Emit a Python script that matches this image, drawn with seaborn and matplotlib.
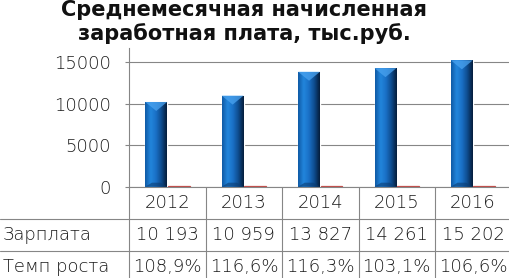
import numpy as np
import pandas as pd
import matplotlib
matplotlib.use("Agg")
import matplotlib.pyplot as plt
import seaborn as sns
from matplotlib.colors import LinearSegmentedColormap
from matplotlib.patches import Polygon

# ---- data ----
years = ["2012", "2013", "2014", "2015", "2016"]
salary = [10193, 10959, 13827, 14261, 15202]
growth = [108.9, 116.6, 116.3, 103.1, 106.6]
series_names = ["Зарплата", "Темп роста"]
title = "Среднемесячная начисленная\nзаработная плата, тыс.руб."
yticks = [0, 5000, 10000, 15000]

sns.set_theme(style="white")
plt.rcParams["font.family"] = ["DejaVu Sans"]

W, H = 509, 278
DPI = 100
fig = plt.figure(figsize=(W / DPI, H / DPI), dpi=DPI)

ax_l, col_w, ax_b, ax_t = 129.3, 76.4, 186.7, 48.0
ax_h = ax_b - ax_t
ax = fig.add_axes([ax_l / W, (H - ax_b) / H, 5 * col_w / W, ax_h / H])

df = pd.DataFrame({
    "year": years * 2,
    "value": salary + growth,
    "series": [series_names[0]] * len(years) + [series_names[1]] * len(years),
})
sns.barplot(data=df, x="year", y="value", hue="series", ax=ax,
            palette=["#1a6cc0", "#c0504d"], width=0.59, gap=0.03,
            saturation=1, legend=False)

grid_c = "#868686"
txt_c = "#1a1a1a"
LIGHT = 200
ymax = 15000 * ax_h / (ax_b - 62)
ax.set_ylim(0, ymax)
ax.set_xlim(-0.5, len(years) - 0.5)
ax.set_yticks(yticks)
ax.set_yticklabels([str(t) for t in yticks], fontsize=13, color=txt_c,
                   fontweight=LIGHT)
ax.yaxis.grid(True, color=grid_c, linewidth=0.8)
ax.set_axisbelow(True)
ax.set_xticks([])
ax.set_xlabel("")
ax.set_ylabel("")
ax.tick_params(axis="y", length=3, width=0.8, color=grid_c, pad=10, left=True)
for s in ["top", "right"]:
    ax.spines[s].set_visible(False)
for s in ["left", "bottom"]:
    ax.spines[s].set_color(grid_c)
    ax.spines[s].set_linewidth(0.8)

# red (growth) bars: give them a visible outline like the reference
for p in ax.patches[len(years):2 * len(years)]:
    p.set_edgecolor("#c0504d")
    p.set_linewidth(0.9)
    p.set_zorder(3)

# gradient for the salary bars
cmap = LinearSegmentedColormap.from_list(
    "cyl", ["#0f5aa5", "#2286dc", "#1a70c6", "#0e4c8e", "#051d3a"])
grad = np.linspace(0, 1, 64).reshape(1, -1)
blue_patches = ax.patches[:len(years)]
px_to_data = ymax / ax_h
for p in blue_patches:
    x0, w, h = p.get_x(), p.get_width(), p.get_height()
    im = ax.imshow(grad, cmap=cmap, extent=[x0, x0 + w, 0, h],
                   aspect="auto", zorder=p.get_zorder() + 0.1,
                   interpolation="bicubic")
    im.set_clip_path(p)
    d = 9 * px_to_data
    tri = Polygon([[x0, h], [x0 + w, h], [x0 + w / 2, h - d]],
                  closed=True, facecolor="#4aa3f0", edgecolor="none",
                  alpha=0.75, zorder=p.get_zorder() + 0.2)
    ax.add_patch(tri)
    bot = Polygon([[x0, 0], [x0 + w, 0], [x0 + w - w * 0.3, 4 * px_to_data],
                   [x0 + w * 0.3, 4 * px_to_data]],
                  closed=True, facecolor="#0b3d73", edgecolor="none",
                  alpha=0.6, zorder=p.get_zorder() + 0.2)
    ax.add_patch(bot)
ax.set_xlim(-0.5, len(years) - 0.5)
ax.set_ylim(0, ymax)

# ---- data table below the plot ----
rh = 32 / ax_h
xt = ax.get_xaxis_transform()
left_frac = -ax_l / (5 * col_w)
fs = 13
kw = dict(fontsize=fs, color=txt_c, fontweight=LIGHT, clip_on=False)
for i, yr in enumerate(years):
    ax.text(i, -0.5 * rh, yr, transform=xt, ha="center", va="center", **kw)
    ax.text(i, -1.5 * rh, f"{salary[i]:,}".replace(",", " "), transform=xt,
            ha="center", va="center", **kw)
    ax.text(i, -2.5 * rh, f"{growth[i]:.1f}%".replace(".", ","), transform=xt,
            ha="center", va="center", **kw)
for r, name in enumerate(series_names):
    ax.text(3 / (5 * col_w) + left_frac, -(r + 1.5) * rh, name,
            transform=ax.transAxes, ha="left", va="center", **kw)
for k in (1, 2):
    ax.plot([left_frac, 1], [-k * rh, -k * rh], transform=ax.transAxes,
            color=grid_c, lw=0.8, clip_on=False)
for i in range(len(years) + 1):
    ax.plot([i - 0.5, i - 0.5], [0, -3.2 * rh], transform=xt,
            color=grid_c, lw=0.8, clip_on=False)

fig.text(244 / W, 1 - 0.5 / H, title, ha="center", va="top", fontsize=15,
         fontweight="bold", color="#111111", linespacing=1.15)

fig.savefig("out.png", dpi=DPI)
